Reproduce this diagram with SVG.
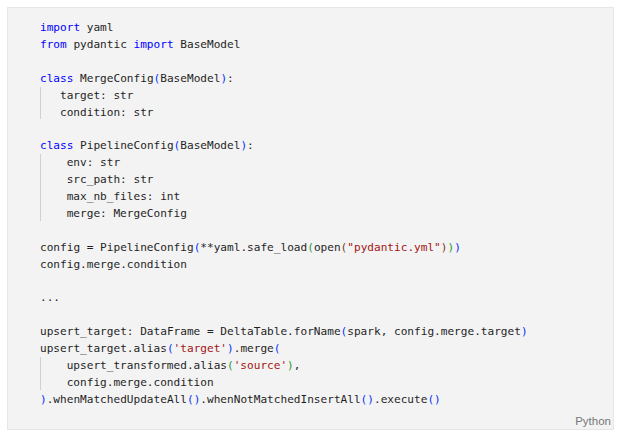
<svg xmlns="http://www.w3.org/2000/svg" width="624" height="436" viewBox="0 0 624 436">
<style>
.code{font-family:"DejaVu Sans Mono","Liberation Mono",monospace;font-size:11.1px;fill:#1f1f1f}
.k{fill:#0000ff}
.b1{fill:#0431fa}
.b2{fill:#319331}
.b3{fill:#7b3814}
.s{fill:#a31515}
.guide{stroke:#d0d0d0;stroke-width:1}
.lang{font-family:"Liberation Sans",Arial,sans-serif;font-size:11.5px;fill:#777777}
</style>
<rect x="0" y="0" width="624" height="436" fill="#ffffff"/>
<g id="panel">
<rect x="7.5" y="7.5" width="606" height="422" fill="#f3f3f3" stroke="#e6e6e6" stroke-width="1"/>
</g>
<g id="guides">
<line class="guide" x1="40.5" y1="87" x2="40.5" y2="119"/>
<line class="guide" x1="40.5" y1="154" x2="40.5" y2="221"/>
<line class="guide" x1="40.5" y1="357" x2="40.5" y2="390"/>
</g>
<g id="code" class="code">
<text x="40" y="31"><tspan class="k">import</tspan> yaml</text>
<text x="40" y="47.9"><tspan class="k">from</tspan> pydantic <tspan class="k">import</tspan> BaseModel</text>
<text x="40" y="81.7"><tspan class="k">class</tspan> MergeConfig<tspan class="b1">(</tspan>BaseModel<tspan class="b1">)</tspan>:</text>
<text x="60" y="98.6">target: str</text>
<text x="60" y="115.5">condition: str</text>
<text x="40" y="149.3"><tspan class="k">class</tspan> PipelineConfig<tspan class="b1">(</tspan>BaseModel<tspan class="b1">)</tspan>:</text>
<text x="66.7" y="166.2">env: str</text>
<text x="66.7" y="183.1">src_path: str</text>
<text x="66.7" y="200">max_nb_files: int</text>
<text x="66.7" y="216.9">merge: MergeConfig</text>
<text x="40" y="250.7">config = PipelineConfig<tspan class="b1">(</tspan>**yaml.safe_load<tspan class="b2">(</tspan>open<tspan class="b3">(</tspan><tspan class="s">"pydantic.yml"</tspan><tspan class="b3">)</tspan><tspan class="b2">)</tspan><tspan class="b1">)</tspan></text>
<text x="40" y="267.6">config.merge.condition</text>
<text x="40" y="301.4">...</text>
<text x="40" y="335.2">upsert_target: DataFrame = DeltaTable.forName<tspan class="b1">(</tspan>spark, config.merge.target<tspan class="b1">)</tspan></text>
<text x="40" y="352.1">upsert_target.alias<tspan class="b1">(</tspan><tspan class="s">'target'</tspan><tspan class="b1">)</tspan>.merge<tspan class="b1">(</tspan></text>
<text x="66.7" y="369">upsert_transformed.alias<tspan class="b2">(</tspan><tspan class="s">'source'</tspan><tspan class="b2">)</tspan>,</text>
<text x="66.7" y="385.9">config.merge.condition</text>
<text x="40" y="402.8"><tspan class="b1">)</tspan>.whenMatchedUpdateAll<tspan class="b1">()</tspan>.whenNotMatchedInsertAll<tspan class="b1">()</tspan>.execute<tspan class="b1">()</tspan></text>
</g>
<g id="language-label">
<text class="lang" x="611" y="425" text-anchor="end">Python</text>
</g>
</svg>
